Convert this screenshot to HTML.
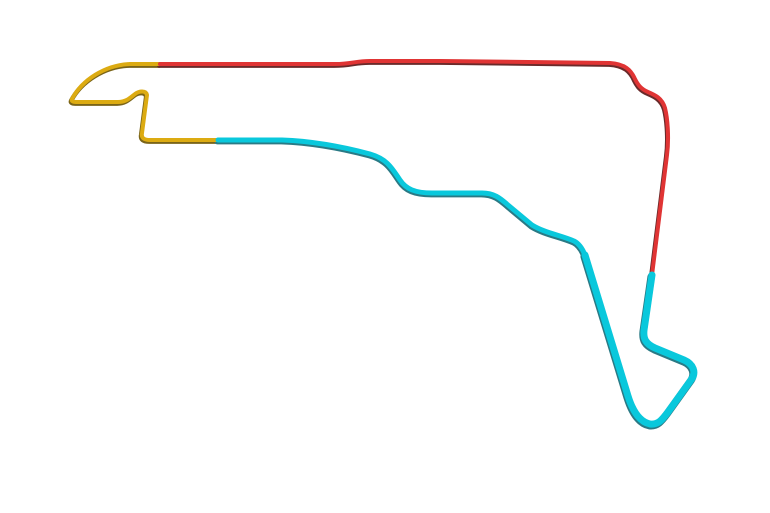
<!DOCTYPE html>
<html><head><style>html,body{margin:0;padding:0;background:#fff}svg{display:block}</style></head>
<body>
<svg width="770" height="513" viewBox="0 0 770 513" xmlns="http://www.w3.org/2000/svg" fill="none" stroke-linecap="round" stroke-linejoin="round">
<defs>
<path id="y" d="M160,64 L130,64 C105,65 82,80 72,99 C71,101 73,102 76,102 L118,102 C126,102 130,98 135,94 C139,91 146,90 147,95 L142,133 C141,138 144,140 150,140 L218,140"/>
<path id="c" d="M218,140 L282,140 C310,141 340,146 370,154 C388,159 393,170 400,180 C406,189 415,193 432,193 L482,193 C494,193 500,198 508,205 L532,225 C545,233 560,235 574,241 C580,244 583,250 585,255"/>
<path id="c2" d="M585,255 L628,396 C633,412 640,422 650,424 C658,425 662,420 668,412 L691,380 C697,372 693,364 684,360 L655,348 C646,344 643,339 644,330 L652,275"/>
<path id="r" d="M652,275 L667,155 C669,140 668,120 665,108 C662,98 655,95 648,92 C641,89 638,85 635,79 C631,70 625,64 610,63 L440,61 L370,61 C355,61 352,64 335,64 L160,64"/>
</defs>
<g transform="translate(-0.8,1.6)">
<use href="#y" stroke-width="4.5" stroke="#7a6418"/>
<use href="#r" stroke-width="4.5" stroke="#6a2a2a"/>
<use href="#c" stroke-width="5.5" stroke="#2a7a85"/>
<use href="#c2" stroke-width="7.5" stroke="#2a7a85"/>
</g>
<use href="#y" stroke="#dcab12" stroke-width="4"/>
<use href="#r" stroke="#e03434" stroke-width="4"/>
<use href="#c" stroke="#09c8dc" stroke-width="5"/>
<use href="#c2" stroke="#09c8dc" stroke-width="7"/>
</svg>
</body></html>
